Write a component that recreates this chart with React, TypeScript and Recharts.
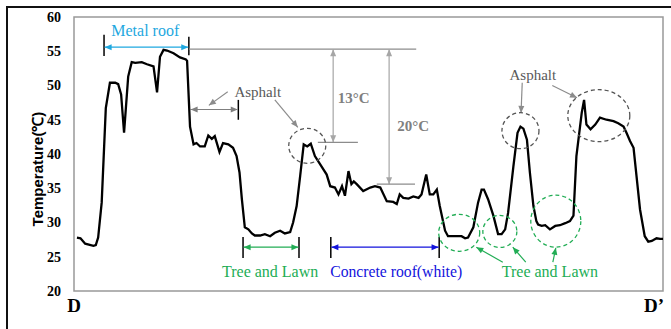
import React from "react";
import {
  LineChart,
  Line,
  XAxis,
  YAxis,
  ReferenceArea,
  ReferenceLine,
  ReferenceDot,
} from "recharts";

// distance along the D–D' transect (0 = D, 100 = D')
const distance = [
  0.5, 1.1, 1.9, 3.3, 3.7, 4.1, 4.7, 5.4, 6.1, 7.0, 7.5, 8.0, 8.5, 9.2, 9.8,
  10.4, 11.5, 12.4, 13.5, 14.1, 14.6, 15.2, 15.8, 16.9, 18.0, 19.0, 19.2, 19.7,
  20.3, 20.8, 21.4, 22.2, 22.8, 23.4, 23.9, 24.7, 25.3, 26.2, 27.0, 27.6, 28.1,
  28.5, 29.0, 29.6, 30.2, 30.7, 31.6, 32.4, 33.3, 34.1, 35.0, 35.8, 36.7, 37.2,
  37.8, 38.4, 39.0, 39.6, 40.2, 40.9, 41.8, 42.9, 43.5, 44.3, 44.9, 45.5, 46.0,
  46.6, 47.1, 47.5, 48.0, 49.1, 50.3, 51.1, 52.0, 53.1, 54.2, 54.8, 55.3, 55.9,
  56.8, 57.6, 58.5, 59.0, 59.8, 60.4, 61.0, 61.6, 62.1, 63.0, 63.5, 65.0, 65.8,
  66.4, 66.9, 67.8, 68.6, 69.2, 69.6, 70.3, 71.2, 72.0, 72.6, 73.2, 73.7, 74.6,
  75.3, 75.8, 76.3, 76.9, 77.4, 78.0, 78.5, 78.8, 79.4, 80.0, 80.8, 81.7, 82.5,
  83.4, 84.2, 84.8, 85.3, 86.2, 86.6, 87.0, 87.7, 88.5, 89.3, 90.4, 91.6, 92.4,
  93.3, 93.8, 94.4, 95.0, 95.5, 96.1, 96.9, 97.5, 98.1, 98.9, 99.5, 100,
];

const temperature = [
  27.8, 27.7, 26.9, 26.6, 26.7, 27.8, 32.9, 46.7, 50.4, 50.4, 50.2, 48.7, 43.1,
  51.3, 53.4, 53.3, 53.4, 53.1, 52.8, 49.0, 54.2, 55.2, 55.1, 54.7, 54.1, 53.8,
  53.6, 44.0, 41.4, 41.6, 41.1, 41.1, 42.7, 42.2, 42.6, 40.3, 41.6, 41.4, 40.9,
  39.7, 37.3, 33.4, 29.3, 29.0, 28.4, 28.1, 28.1, 28.3, 28.0, 28.5, 28.8, 28.4,
  28.6, 30.0, 32.4, 36.8, 41.4, 41.1, 41.5, 39.7, 38.5, 37.0, 35.3, 35.1, 34.1,
  35.3, 33.9, 37.5, 35.6, 36.0, 35.6, 34.6, 35.1, 35.3, 35.1, 33.1, 33.0, 32.7,
  34.1, 33.6, 33.5, 33.8, 33.6, 34.1, 37.0, 34.1, 34.1, 34.8, 32.4, 28.8, 28.0,
  28.0, 28.0, 27.7, 27.8, 29.3, 32.9, 34.8, 34.8, 33.4, 31.0, 28.3, 28.3, 29.0,
  31.4, 38.2, 43.1, 44.0, 43.7, 42.1, 37.3, 32.4, 30.2, 29.7, 29.5, 29.6, 29.0,
  29.5, 29.6, 29.9, 30.2, 31.0, 39.7, 46.0, 47.9, 44.3, 43.6, 44.3, 45.3, 45.0,
  44.8, 44.5, 44.0, 43.1, 41.9, 40.9, 36.8, 31.9, 28.0, 27.2, 27.3, 27.7, 27.6,
  27.6,
];

const yTicks = [20, 25, 30, 35, 40, 45, 50, 55, 60];
const endTicks = [0, 100];
const endLabels = ["D", "D\u2019"];

const CYAN = "#1ea8e0";
const GREEN = "#22ad55";
const BLUE = "#1212dc";
const LIGHT = "#a6a6a6";

type Seg = {
  x1: number; y1: number; x2: number; y2: number;
  color: string; heads: "none" | "end" | "both"; w?: number;
};

// bracket ticks, dimension arrows and pointer arrows (data coordinates)
const segments: Seg[] = [
  { x1: 5.1, y1: 57.4, x2: 5.1, y2: 54.3, color: "#000", heads: "none", w: 1.5 },
  { x1: 19.5, y1: 57.1, x2: 19.5, y2: 54.4, color: "#000", heads: "none", w: 1.5 },
  { x1: 5.2, y1: 55.6, x2: 19.4, y2: 55.6, color: CYAN, heads: "both" },
  { x1: 19.5, y1: 55.3, x2: 58.1, y2: 55.3, color: "#8c8c8c", heads: "none" },
  { x1: 27.9, y1: 47.9, x2: 27.9, y2: 45.0, color: "#000", heads: "none", w: 1.5 },
  { x1: 19.8, y1: 46.5, x2: 27.8, y2: 46.5, color: "#7f7f7f", heads: "both" },
  { x1: 26.1, y1: 49.1, x2: 22.9, y2: 47.1, color: "#8c8c8c", heads: "end" },
  { x1: 34.1, y1: 47.9, x2: 38.0, y2: 43.9, color: "#8c8c8c", heads: "end" },
  { x1: 44.0, y1: 55.3, x2: 44.0, y2: 41.7, color: LIGHT, heads: "both" },
  { x1: 41.4, y1: 41.7, x2: 48.2, y2: 41.7, color: "#8c8c8c", heads: "none" },
  { x1: 53.5, y1: 55.3, x2: 53.5, y2: 35.6, color: LIGHT, heads: "both" },
  { x1: 51.4, y1: 35.6, x2: 57.9, y2: 35.6, color: "#8c8c8c", heads: "none" },
  { x1: 28.7, y1: 27.9, x2: 28.7, y2: 24.8, color: "#000", heads: "none", w: 1.5 },
  { x1: 38.2, y1: 27.9, x2: 38.2, y2: 24.8, color: "#000", heads: "none", w: 1.5 },
  { x1: 28.8, y1: 26.4, x2: 38.1, y2: 26.4, color: GREEN, heads: "both" },
  { x1: 43.6, y1: 27.9, x2: 43.6, y2: 24.8, color: "#000", heads: "none", w: 1.5 },
  { x1: 62.0, y1: 27.9, x2: 62.0, y2: 24.8, color: "#000", heads: "none", w: 1.5 },
  { x1: 43.7, y1: 26.4, x2: 61.9, y2: 26.4, color: BLUE, heads: "both" },
  { x1: 72.8, y1: 24.2, x2: 68.3, y2: 26.4, color: GREEN, heads: "end" },
  { x1: 76.7, y1: 24.2, x2: 74.5, y2: 26.4, color: GREEN, heads: "end" },
  { x1: 81.3, y1: 24.2, x2: 81.8, y2: 26.3, color: GREEN, heads: "end" },
  { x1: 76.1, y1: 50.4, x2: 75.9, y2: 46.0, color: "#8c8c8c", heads: "end" },
  { x1: 81.2, y1: 50.0, x2: 85.4, y2: 48.2, color: "#8c8c8c", heads: "end" },
];

// dashed highlight rings: centre in data coords, radii in px
const rings = [
  { x: 39.6, y: 41.2, rx: 18.5, ry: 17.5, color: "#555" },
  { x: 65.4, y: 28.5, rx: 20.5, ry: 18.5, color: GREEN },
  { x: 72.3, y: 28.7, rx: 17, ry: 16, color: GREEN },
  { x: 81.8, y: 30.2, rx: 25, ry: 26, color: GREEN },
  { x: 75.8, y: 43.4, rx: 18.5, ry: 18, color: "#555" },
  { x: 89.1, y: 45.6, rx: 31, ry: 26, color: "#555" },
];

const notes = [
  { x: 12.1, y: 58.0, text: "Metal roof", color: CYAN, bold: false, size: 16 },
  { x: 31.2, y: 49.1, text: "Asphalt", color: "#595959", bold: false, size: 15 },
  { x: 47.5, y: 48.2, text: "13°C", color: "#808080", bold: true, size: 15 },
  { x: 57.6, y: 44.1, text: "20°C", color: "#808080", bold: true, size: 15 },
  { x: 33.3, y: 22.8, text: "Tree and Lawn", color: GREEN, bold: false, size: 16 },
  { x: 54.7, y: 22.8, text: "Concrete roof(white)", color: BLUE, bold: false, size: 15.7 },
  { x: 80.8, y: 22.8, text: "Tree and Lawn", color: GREEN, bold: false, size: 16 },
  { x: 77.9, y: 51.6, text: "Asphalt", color: "#595959", bold: false, size: 15 },
];

const chartData = distance.map((d, i) => ({ d, t: temperature[i] }));

const head = (x: number, y: number, a: number, color: string) => {
  const L = 7;
  const W = 3;
  const bx = x - L * Math.cos(a);
  const by = y - L * Math.sin(a);
  const px = W * Math.sin(a);
  const py = -W * Math.cos(a);
  return (
    <polygon
      points={`${x},${y} ${bx + px},${by + py} ${bx - px},${by - py}`}
      fill={color}
    />
  );
};

const segShape = (s: Seg) => (p: any) => {
  const { x1, y1, x2, y2 } = p;
  const a = Math.atan2(y2 - y1, x2 - x1);
  return (
    <g>
      <line x1={x1} y1={y1} x2={x2} y2={y2} stroke={s.color} strokeWidth={s.w ?? 1.2} />
      {s.heads !== "none" && head(x2, y2, a, s.color)}
      {s.heads === "both" && head(x1, y1, a + Math.PI, s.color)}
    </g>
  );
};

const EndTick = (props: any) => {
  const { x, y, payload } = props;
  const last = payload.value === 100;
  return (
    <text
      x={last ? x + 5 : x}
      y={y}
      dy="0.71em"
      textAnchor={last ? "end" : "middle"}
      fontFamily="'Liberation Serif', serif"
      fontWeight="bold"
      fontSize={19}
      fill="#000"
    >
      {endLabels[endTicks.indexOf(payload.value)]}
    </text>
  );
};

const YLabel = (props: any) => {
  const { viewBox } = props;
  const cx = viewBox.x + viewBox.width / 2;
  const cy = viewBox.y + viewBox.height / 2 + 15;
  return (
    <text
      x={cx}
      y={cy}
      transform={`rotate(-90, ${cx}, ${cy})`}
      textAnchor="middle"
      dominantBaseline="central"
      fontFamily="'Liberation Sans', Arial, sans-serif"
      fontWeight="bold"
      fontSize={15}
      fill="#000"
    >
      Temperature(℃)
    </text>
  );
};

export default function App() {
  return (
    <div style={{ position: "absolute", left: 0, top: 0, width: 671, height: 329, background: "#fff", overflow: "hidden" }}>
      <div
        style={{
          position: "absolute",
          left: 6,
          top: 6,
          width: 680,
          height: 340,
          borderTop: "2px solid #111",
          borderLeft: "2px solid #111",
        }}
      />
      <div style={{ position: "absolute", left: 0, top: 0 }}>
        <LineChart
          width={671}
          height={329}
          data={chartData}
          margin={{ top: 17, right: 8, bottom: 0, left: 0 }}
        >
          <XAxis
            dataKey="d"
            type="number"
            domain={[0, 100]}
            ticks={endTicks}
            axisLine={false}
            tickLine={false}
            height={38}
            tick={<EndTick />}
          />
          <YAxis
            domain={[20, 60]}
            ticks={yTicks}
            width={74}
            axisLine={false}
            tickLine={false}
            tickMargin={7}
            tick={{
              fill: "#000",
              fontSize: 14,
              fontWeight: "bold",
              fontFamily: "'Liberation Serif', serif",
            }}
            label={<YLabel />}
          />
          <ReferenceArea
            x1={0}
            x2={100}
            y1={20}
            y2={60}
            fill="none"
            stroke="#999"
            strokeWidth={1.5}
          />
          {segments.map((s, i) => (
            <ReferenceLine
              key={`s${i}`}
              segment={[
                { x: s.x1, y: s.y1 },
                { x: s.x2, y: s.y2 },
              ]}
              shape={segShape(s)}
            />
          ))}
          {rings.map((r, i) => (
            <ReferenceDot
              key={`r${i}`}
              x={r.x}
              y={r.y}
              r={1}
              shape={(p: any) => (
                <ellipse
                  cx={p.cx}
                  cy={p.cy}
                  rx={r.rx}
                  ry={r.ry}
                  fill="none"
                  stroke={r.color}
                  strokeWidth={1.3}
                  strokeDasharray="4 3"
                />
              )}
            />
          ))}
          {notes.map((n, i) => (
            <ReferenceDot
              key={`n${i}`}
              x={n.x}
              y={n.y}
              r={1}
              shape={(p: any) => (
                <text
                  x={p.cx}
                  y={p.cy}
                  textAnchor="middle"
                  dominantBaseline="central"
                  fontFamily="'Liberation Serif', serif"
                  fontWeight={n.bold ? "bold" : "normal"}
                  fontSize={n.size}
                  fill={n.color}
                >
                  {n.text}
                </text>
              )}
            />
          ))}
          <Line
            type="linear"
            dataKey="t"
            stroke="#000"
            strokeWidth={2.3}
            dot={false}
            isAnimationActive={false}
          />
        </LineChart>
      </div>
    </div>
  );
}
